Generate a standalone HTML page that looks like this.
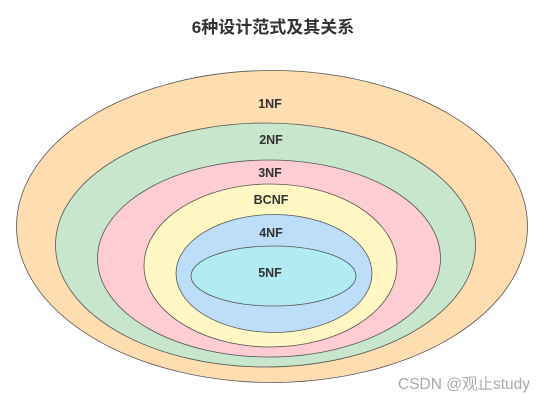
<!DOCTYPE html>
<html><head><meta charset="utf-8"><style>
html,body{margin:0;padding:0;background:#fff;width:551px;height:402px;overflow:hidden}
</style></head><body>
<svg width="551" height="402" xmlns="http://www.w3.org/2000/svg" font-family="Liberation Sans, Noto Sans CJK SC, sans-serif">
<text x="273" y="33" text-anchor="middle" font-size="17" font-weight="bold" fill="#333">6种设计范式及其关系</text>
<g stroke="#555" stroke-width="0.8">
<ellipse cx="272" cy="226.5" rx="255.5" ry="156" fill="#fedeb0"/>
<ellipse cx="265.5" cy="245" rx="210" ry="122" fill="#c8e6cb"/>
<ellipse cx="269" cy="258.5" rx="171.5" ry="98.5" fill="#fdcdd3"/>
<ellipse cx="270.5" cy="265.5" rx="126.5" ry="81.5" fill="#fff8c4"/>
<ellipse cx="274" cy="273.5" rx="98" ry="59" fill="#bcdef9"/>
<ellipse cx="273.5" cy="276" rx="82.5" ry="30" fill="#b2ebf1"/>
</g>
<g font-size="12.5" font-weight="bold" fill="#333" text-anchor="middle">
<text x="270" y="108">1NF</text>
<text x="271" y="144">2NF</text>
<text x="270" y="177">3NF</text>
<text x="271" y="204">BCNF</text>
<text x="271" y="237">4NF</text>
<text x="270" y="277">5NF</text>
</g>
<text x="398" y="389" font-size="15.5" fill="#aaa">CSDN @观止study</text>
</svg>
</body></html>
